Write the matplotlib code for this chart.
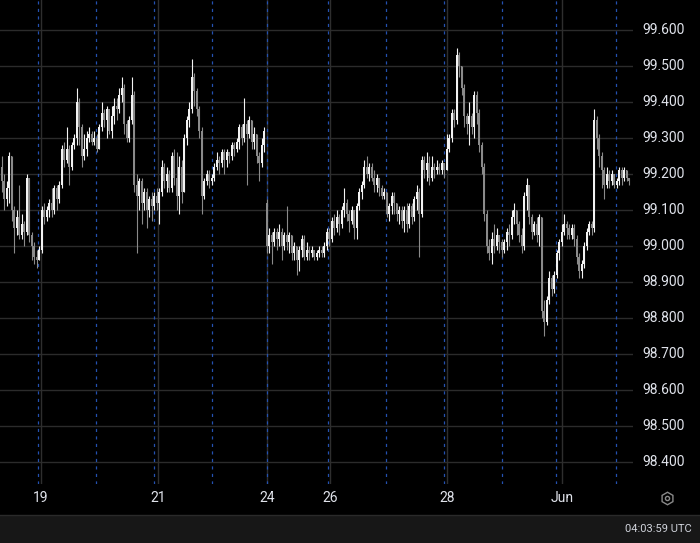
import numpy as np
import matplotlib
matplotlib.use("Agg")
import matplotlib.pyplot as plt

# hourly candles
closes = [
    99.18, 99.13, 99.16, 99.25, 99.10, 99.05, 99.08, 99.03, 99.06, 99.04,
    99.19, 99.03, 99.00, 98.97, 98.96, 98.99, 99.10, 99.08, 99.10, 99.12,
    99.10, 99.16, 99.13, 99.17, 99.27, 99.24, 99.27, 99.22, 99.28, 99.30,
    99.40, 99.33, 99.25, 99.27, 99.30, 99.31, 99.29, 99.30, 99.27, 99.33,
    99.37, 99.35, 99.38, 99.32, 99.36, 99.39, 99.38, 99.42, 99.44, 99.34,
    99.30, 99.35, 99.42, 99.17, 99.14, 99.18, 99.12, 99.15, 99.10, 99.13,
    99.11, 99.14, 99.12, 99.15, 99.22, 99.18, 99.20, 99.16, 99.25, 99.19,
    99.14, 99.22, 99.15, 99.30, 99.35, 99.38, 99.47, 99.43, 99.38, 99.32,
    99.14, 99.18, 99.20, 99.18, 99.19, 99.22, 99.24, 99.23, 99.26, 99.24,
    99.26, 99.25, 99.28, 99.27, 99.29, 99.33, 99.30, 99.34, 99.31, 99.35,
    99.29, 99.31, 99.25, 99.23, 99.28, 99.32, 99.00, 99.03, 99.01, 99.04,
    99.02, 99.04, 99.00, 99.03, 99.01, 99.03, 98.98, 99.00, 98.96, 98.99,
    99.02, 98.97, 98.99, 98.98, 98.99, 98.97, 98.98, 98.99, 98.98, 99.00,
    99.04, 99.02, 99.07, 99.05, 99.08, 99.06, 99.10, 99.12, 99.09, 99.07,
    99.10, 99.05, 99.11, 99.15, 99.17, 99.22, 99.20, 99.22, 99.19, 99.17,
    99.19, 99.16, 99.14, 99.15, 99.09, 99.11, 99.14, 99.12, 99.09, 99.10,
    99.07, 99.10, 99.06, 99.11, 99.08, 99.13, 99.15, 99.09, 99.24, 99.21,
    99.23, 99.19, 99.22, 99.21, 99.22, 99.21, 99.23, 99.21, 99.27, 99.30,
    99.37, 99.35, 99.53, 99.50, 99.44, 99.36, 99.34, 99.36, 99.33, 99.42,
    99.37, 99.28, 99.22, 99.09, 99.00, 98.98, 99.02, 99.00, 99.03, 99.01,
    98.99, 99.01, 99.04, 99.03, 99.08, 99.10, 99.06, 99.03, 99.00, 99.14,
    99.17, 99.08, 99.04, 99.06, 99.03, 99.08, 98.82, 98.79, 98.85, 98.91,
    98.88, 98.92, 98.98, 99.01, 99.04, 99.06, 99.05, 99.03, 99.05, 99.02,
    98.97, 98.93, 98.95, 99.00, 99.04, 99.06, 99.05, 99.35, 99.30, 99.25,
    99.21, 99.17, 99.20, 99.18, 99.20, 99.17, 99.18, 99.21, 99.19, 99.21,
    99.19, 99.18,
]
highs = [
    99.25, 99.20, 99.18, 99.26, 99.25, 99.11, 99.10, 99.17, 99.09, 99.07,
    99.20, 99.19, 99.04, 99.01, 98.99, 99.00, 99.11, 99.12, 99.11, 99.13,
    99.16, 99.17, 99.17, 99.18, 99.28, 99.29, 99.33, 99.28, 99.29, 99.31,
    99.44, 99.41, 99.34, 99.31, 99.32, 99.33, 99.32, 99.32, 99.31, 99.34,
    99.40, 99.38, 99.39, 99.38, 99.39, 99.41, 99.41, 99.44, 99.47, 99.45,
    99.35, 99.36, 99.47, 99.43, 99.20, 99.19, 99.19, 99.16, 99.16, 99.14,
    99.15, 99.15, 99.16, 99.16, 99.24, 99.23, 99.22, 99.21, 99.26, 99.27,
    99.26, 99.25, 99.24, 99.31, 99.36, 99.40, 99.52, 99.48, 99.44, 99.39,
    99.33, 99.19, 99.21, 99.21, 99.20, 99.23, 99.26, 99.25, 99.27, 99.27,
    99.27, 99.26, 99.29, 99.29, 99.30, 99.34, 99.34, 99.41, 99.35, 99.36,
    99.35, 99.33, 99.31, 99.26, 99.30, 99.33, 99.13, 99.05, 99.04, 99.05,
    99.05, 99.06, 99.05, 99.04, 99.11, 99.04, 99.03, 99.01, 99.00, 99.00,
    99.03, 99.03, 99.01, 99.00, 99.00, 98.99, 98.99, 99.00, 99.00, 99.01,
    99.05, 99.05, 99.08, 99.09, 99.10, 99.09, 99.11, 99.16, 99.13, 99.10,
    99.11, 99.10, 99.12, 99.16, 99.18, 99.24, 99.25, 99.23, 99.23, 99.21,
    99.20, 99.19, 99.17, 99.16, 99.14, 99.12, 99.15, 99.15, 99.12, 99.11,
    99.11, 99.11, 99.12, 99.12, 99.12, 99.14, 99.17, 99.16, 99.25, 99.25,
    99.26, 99.25, 99.25, 99.23, 99.24, 99.23, 99.24, 99.23, 99.31, 99.31,
    99.38, 99.38, 99.55, 99.54, 99.50, 99.45, 99.37, 99.40, 99.37, 99.43,
    99.43, 99.38, 99.29, 99.23, 99.10, 99.02, 99.04, 99.06, 99.05, 99.03,
    99.02, 99.02, 99.05, 99.06, 99.10, 99.12, 99.10, 99.07, 99.05, 99.15,
    99.19, 99.17, 99.09, 99.07, 99.08, 99.09, 99.08, 98.85, 98.86, 98.93,
    98.92, 98.93, 98.99, 99.02, 99.06, 99.09, 99.07, 99.06, 99.06, 99.06,
    99.03, 98.98, 98.96, 99.01, 99.05, 99.07, 99.07, 99.38, 99.36, 99.31,
    99.26, 99.22, 99.22, 99.21, 99.21, 99.20, 99.19, 99.22, 99.22, 99.22,
    99.21, 99.19,
]
lows = [
    99.15, 99.10, 99.11, 99.12, 99.07, 98.98, 99.03, 99.02, 99.02, 99.00,
    99.03, 99.01, 98.96, 98.95, 98.94, 98.96, 98.98, 99.06, 99.07, 99.08,
    99.08, 99.09, 99.10, 99.12, 99.16, 99.22, 99.23, 99.17, 99.21, 99.27,
    99.28, 99.28, 99.22, 99.24, 99.25, 99.29, 99.28, 99.28, 99.26, 99.27,
    99.32, 99.33, 99.30, 99.31, 99.30, 99.34, 99.35, 99.37, 99.40, 99.31,
    99.29, 99.29, 99.34, 99.15, 98.98, 99.10, 99.06, 99.10, 99.05, 99.08,
    99.07, 99.10, 99.10, 99.06, 99.14, 99.16, 99.15, 99.15, 99.15, 99.17,
    99.10, 99.09, 99.12, 99.15, 99.28, 99.33, 99.37, 99.39, 99.36, 99.30,
    99.09, 99.13, 99.17, 99.16, 99.17, 99.18, 99.21, 99.20, 99.22, 99.20,
    99.22, 99.23, 99.24, 99.25, 99.26, 99.27, 99.28, 99.29, 99.17, 99.30,
    99.27, 99.27, 99.23, 99.18, 99.22, 99.26, 98.98, 98.98, 98.95, 99.00,
    98.99, 99.00, 98.96, 98.99, 98.99, 98.98, 98.96, 98.96, 98.92, 98.93,
    98.97, 98.96, 98.96, 98.96, 98.97, 98.96, 98.96, 98.97, 98.97, 98.97,
    98.99, 99.00, 99.01, 99.03, 99.04, 99.03, 99.05, 99.08, 99.07, 99.04,
    99.06, 99.02, 99.02, 99.10, 99.13, 99.16, 99.19, 99.18, 99.18, 99.15,
    99.15, 99.14, 99.13, 99.13, 99.08, 99.07, 99.09, 99.09, 99.07, 99.06,
    99.05, 99.04, 99.04, 99.05, 99.06, 99.07, 99.10, 98.97, 99.08, 99.19,
    99.18, 99.17, 99.18, 99.19, 99.20, 99.20, 99.20, 99.19, 99.24, 99.26,
    99.29, 99.33, 99.34, 99.47, 99.42, 99.33, 99.31, 99.28, 99.31, 99.30,
    99.34, 99.26, 99.20, 99.07, 98.98, 98.96, 98.95, 98.98, 98.99, 98.98,
    98.97, 98.98, 98.99, 99.00, 99.02, 99.06, 99.03, 99.01, 98.98, 98.99,
    99.10, 99.06, 99.02, 99.03, 99.01, 99.00, 98.80, 98.75, 98.78, 98.84,
    98.86, 98.87, 98.91, 98.96, 99.00, 99.03, 99.02, 99.02, 99.02, 99.00,
    98.95, 98.91, 98.91, 98.94, 98.99, 99.03, 99.03, 99.04, 99.27, 99.22,
    99.16, 99.13, 99.16, 99.16, 99.17, 99.16, 99.16, 99.17, 99.17, 99.18,
    99.18, 99.17,
]
first_open = 99.22
gap_bar = 106        # weekend reopen
gap_open = 99.12

# x axis: session breaks and date ticks (in bar units)
session_breaks = [14.6, 37.8, 61.0, 84.2, 106.0, 130.6, 153.8, 177.0, 200.2, 221.8, 245.8]
date_ticks = [15.8, 62.6, 106.2, 131.4, 178.2, 224.2]
date_labels = ["19", "21", "24", "26", "28", "Jun"]
price_ticks = [99.6, 99.5, 99.4, 99.3, 99.2, 99.1, 99.0, 98.9, 98.8, 98.7, 98.6, 98.5, 98.4]

closes = np.array(closes)
highs = np.array(highs)
lows = np.array(lows)
opens = np.concatenate([[first_open], closes[:-1]])
opens[gap_bar] = gap_open
x = np.arange(len(closes))

up = closes >= opens
up_col = "#f2f2f2"
down_col = "#8a8a8a"
colors = np.where(up, up_col, down_col)
hi = np.maximum(highs, np.maximum(opens, closes))
lo = np.minimum(lows, np.minimum(opens, closes))

W, H = 700, 543
fig = plt.figure(figsize=(7, 5.43), dpi=100, facecolor="black")

# background layer in pixel coords
bg = fig.add_axes([0, 0, 1, 1])
bg.set_xlim(0, W)
bg.set_ylim(H, 0)
bg.axis("off")
bg.add_patch(plt.Rectangle((0, 515), W, 28, color="#171717", lw=0))
bg.plot([0, W], [515, 515], color="#2a2a2a", lw=1)
bg.text(692, 529, "04:03:59 UTC", color="#d1d4dc", fontsize=8,
        family="Roboto", ha="right", va="center")
bg.plot([667], [498], marker="h", ms=9, mfc="none", mec="#8a8a8a", mew=1)
bg.plot([667], [498], marker="o", ms=3, mfc="none", mec="#8a8a8a", mew=1)

ax = fig.add_axes([0, (H - 484) / H, 633 / W, 484 / H])
ax.set_facecolor("none")
ax.set_xlim(-0.6, 252.6)
ax.set_ylim(99.6 - 454 / 360, 99.6 + 30 / 360)

for p in price_ticks:
    ax.axhline(p, color="#2b2b2b", lw=1, zorder=0)
for t in date_ticks:
    ax.axvline(t, color="#2e2e2e", lw=1, zorder=0)
for s in session_breaks:
    ax.axvline(s, color="#2451b0", lw=0.9, ls=(0, (2.5, 3.5)), zorder=1)

ax.vlines(x, lo, hi, colors=colors, lw=0.8, zorder=2)
body = np.abs(closes - opens)
body = np.maximum(body, 0.003)
ax.bar(x, body, bottom=np.minimum(opens, closes), width=0.62,
       color=colors, lw=0, zorder=3)

ax.set_xticks([])
ax.set_yticks([])
for sp in ax.spines.values():
    sp.set_visible(False)

# axis labels
ylo, yhi = ax.get_ylim()
for p in price_ticks:
    ax.text(1.015, (p - ylo) / (yhi - ylo), "%.3f" % p, transform=ax.transAxes,
            color="#e0e3eb", fontsize=10, family="Roboto", ha="left", va="center")
for t, lab in zip(date_ticks, date_labels):
    ax.text(t, -0.028, lab, transform=ax.get_xaxis_transform(), color="#e0e3eb",
            fontsize=10, family="Roboto", ha="center", va="center")

fig.savefig("out.png", dpi=100, facecolor="black")
